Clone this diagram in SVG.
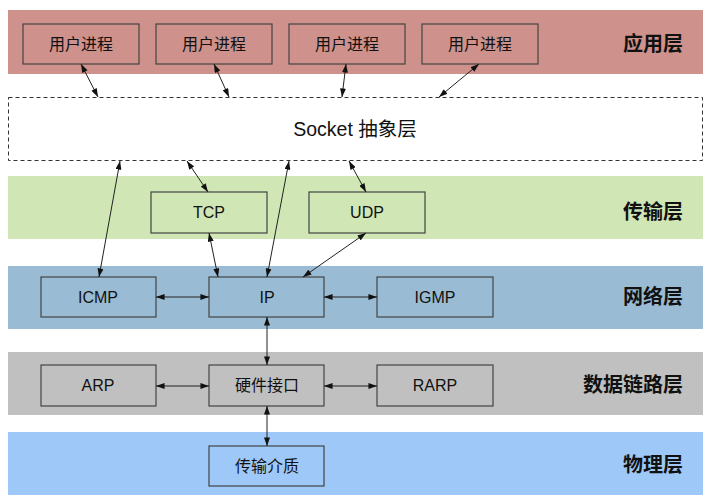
<svg xmlns="http://www.w3.org/2000/svg" width="706" height="499" viewBox="0 0 706 499">
<style>
text{font-family:"Liberation Sans","Noto Sans CJK SC",sans-serif;fill:#111;}
.box{stroke:#444;stroke-width:1.2;}
.lbl{font-size:16px;text-anchor:middle;dominant-baseline:central;}
.layer{font-size:20px;font-weight:bold;text-anchor:end;dominant-baseline:central;}
.conn line{stroke:#222;stroke-width:1;marker-start:url(#ah);marker-end:url(#ah);}
</style>
<defs>
<marker id="ah" viewBox="0 0 10 7" refX="10" refY="3.5" markerWidth="9" markerHeight="6" markerUnits="userSpaceOnUse" orient="auto-start-reverse">
<path d="M0,0 L10,3.5 L0,7 z" fill="#111"/>
</marker>
</defs>
<rect width="706" height="499" fill="#fff"/>

<g id="layer-app">
<rect x="8" y="10" width="695" height="64" fill="#ce918b"/>
<text class="layer" x="683" y="44">应用层</text>
</g>
<g id="layer-transport">
<rect x="8" y="176" width="695" height="63" fill="#d0e6b4"/>
<text class="layer" x="683" y="212">传输层</text>
</g>
<g id="layer-network">
<rect x="8" y="266" width="695" height="63" fill="#99bbd3"/>
<text class="layer" x="683" y="297">网络层</text>
</g>
<g id="layer-link">
<rect x="8" y="352" width="695" height="63" fill="#c0c0c0"/>
<text class="layer" x="683" y="385">数据链路层</text>
</g>
<g id="layer-physical">
<rect x="8" y="432" width="695" height="63" fill="#9ec8f7"/>
<text class="layer" x="683" y="465">物理层</text>
</g>

<g id="socket">
<rect x="8.5" y="97.5" width="694" height="63" fill="#fff" stroke="#333" stroke-width="1" stroke-dasharray="4,3"/>
<text x="355" y="129" font-size="19.5" text-anchor="middle" dominant-baseline="central">Socket 抽象层</text>
</g>

<g id="proc1"><rect class="box" x="23" y="24" width="116" height="40" fill="#ce918b"/><text class="lbl" x="81" y="44">用户进程</text></g>
<g id="proc2"><rect class="box" x="156" y="24" width="116" height="40" fill="#ce918b"/><text class="lbl" x="214" y="44">用户进程</text></g>
<g id="proc3"><rect class="box" x="289" y="24" width="116" height="40" fill="#ce918b"/><text class="lbl" x="347" y="44">用户进程</text></g>
<g id="proc4"><rect class="box" x="422" y="24" width="116" height="40" fill="#ce918b"/><text class="lbl" x="480" y="44">用户进程</text></g>

<g id="tcp"><rect class="box" x="151" y="192" width="116" height="41" fill="#d0e6b4"/><text class="lbl" x="209" y="212">TCP</text></g>
<g id="udp"><rect class="box" x="309" y="192" width="116" height="41" fill="#d0e6b4"/><text class="lbl" x="367" y="212">UDP</text></g>

<g id="icmp"><rect class="box" x="41" y="277" width="115" height="40" fill="#99bbd3"/><text class="lbl" x="98" y="297">ICMP</text></g>
<g id="ip"><rect class="box" x="209" y="277" width="115" height="40" fill="#99bbd3"/><text class="lbl" x="267" y="297">IP</text></g>
<g id="igmp"><rect class="box" x="377" y="277" width="116" height="40" fill="#99bbd3"/><text class="lbl" x="435" y="297">IGMP</text></g>

<g id="arp"><rect class="box" x="41" y="365" width="115" height="41" fill="#c0c0c0"/><text class="lbl" x="98" y="385">ARP</text></g>
<g id="hw"><rect class="box" x="209" y="365" width="115" height="41" fill="#c0c0c0"/><text class="lbl" x="267" y="385">硬件接口</text></g>
<g id="rarp"><rect class="box" x="377" y="365" width="116" height="41" fill="#c0c0c0"/><text class="lbl" x="435" y="385">RARP</text></g>

<g id="medium"><rect class="box" x="209" y="446" width="115" height="40" fill="#9ec8f7"/><text class="lbl" x="267" y="466">传输介质</text></g>

<g id="connectors" class="conn">
<line x1="81" y1="64" x2="98" y2="97"/>
<line x1="214" y1="64" x2="229" y2="97"/>
<line x1="346" y1="64" x2="342" y2="97"/>
<line x1="479" y1="64" x2="439" y2="97"/>
<line x1="120" y1="161" x2="99" y2="277"/>
<line x1="187" y1="161" x2="208" y2="192"/>
<line x1="289" y1="161" x2="267" y2="277"/>
<line x1="349" y1="161" x2="366" y2="192"/>
<line x1="209" y1="233" x2="218" y2="277"/>
<line x1="366" y1="233" x2="303" y2="277"/>
<line x1="156" y1="297" x2="209" y2="297"/>
<line x1="324" y1="297" x2="377" y2="297"/>
<line x1="267" y1="317" x2="267" y2="365"/>
<line x1="156" y1="386" x2="209" y2="386"/>
<line x1="324" y1="386" x2="377" y2="386"/>
<line x1="267" y1="406" x2="267" y2="446"/>
</g>
</svg>
